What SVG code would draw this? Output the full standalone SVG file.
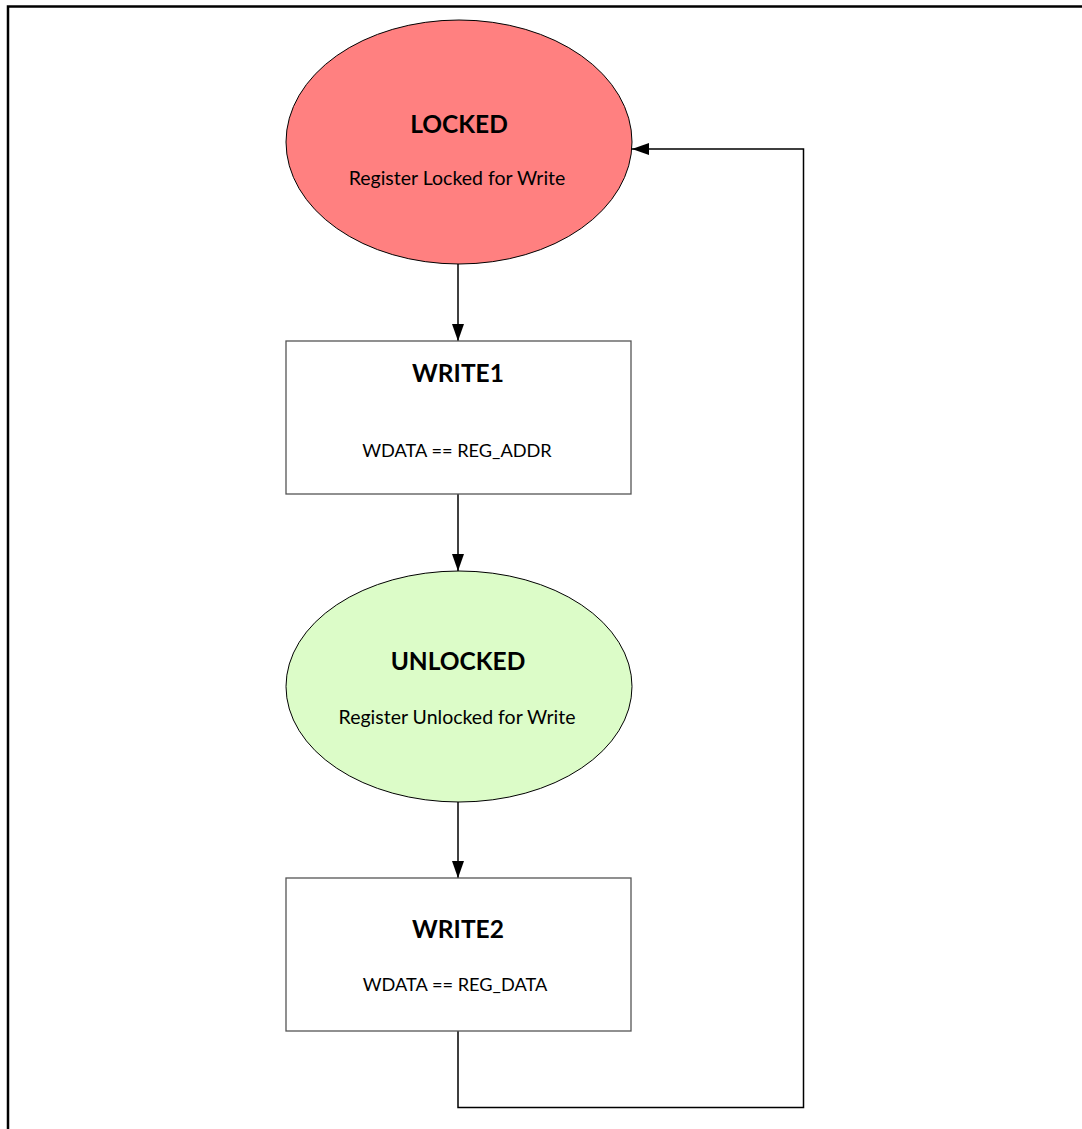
<svg xmlns="http://www.w3.org/2000/svg" width="1082" height="1129" viewBox="0 0 1082 1129">
  <style>
    .title { font-family: Lato, "Open Sans", sans-serif; font-weight: bold; font-size: 24.5px; fill: #000; text-anchor: middle; }
    .sub { font-family: Lato, "Open Sans", sans-serif; font-size: 19.5px; fill: #000; text-anchor: middle; }
    .cond { font-family: Lato, "Open Sans", sans-serif; font-size: 18.2px; fill: #000; text-anchor: middle; }
    .state { stroke: #000; stroke-width: 1; }
    .box { fill: #fff; stroke: #555; stroke-width: 1.3; }
    .wire { fill: none; stroke: #000; stroke-width: 1.5; }
  </style>
  <defs>
    <marker id="arrow" viewBox="0 0 17 12" refX="17" refY="6" markerWidth="17" markerHeight="12" markerUnits="userSpaceOnUse" orient="auto">
      <path d="M0,0 L17,6 L0,12 Z" fill="#000"/>
    </marker>
  </defs>
  <rect width="1082" height="1129" fill="#fff"/>

  <!-- outer frame -->
  <path d="M8,1129 V6.5 H1082" fill="none" stroke="#000" stroke-width="2.5"/>

  <g id="connectors">
    <line class="wire" x1="458" y1="264" x2="458" y2="341" marker-end="url(#arrow)"/>
    <line class="wire" x1="458" y1="494" x2="458" y2="571" marker-end="url(#arrow)"/>
    <line class="wire" x1="458" y1="802" x2="458" y2="878" marker-end="url(#arrow)"/>
    <path class="wire" d="M458,1031 V1107.5 H803.5 V149 H632" marker-end="url(#arrow)"/>
  </g>

  <g id="locked">
    <ellipse class="state" cx="459" cy="142" rx="173" ry="122" fill="#ff8080"/>
    <text class="title" x="459" y="133">LOCKED</text>
    <text class="sub" x="457" y="185">Register Locked for Write</text>
  </g>

  <g id="write1">
    <rect class="box" x="286" y="341" width="345" height="153"/>
    <text class="title" x="458" y="382">WRITE1</text>
    <text class="cond" x="457" y="457">WDATA == REG_ADDR</text>
  </g>

  <g id="unlocked">
    <ellipse class="state" cx="459" cy="686.5" rx="173" ry="115.5" fill="#dcfcc8"/>
    <text class="title" x="458" y="670">UNLOCKED</text>
    <text class="sub" x="457" y="724">Register Unlocked for Write</text>
  </g>

  <g id="write2">
    <rect class="box" x="286" y="878" width="345" height="153"/>
    <text class="title" x="458" y="938">WRITE2</text>
    <text class="cond" x="455" y="991">WDATA == REG_DATA</text>
  </g>
</svg>
